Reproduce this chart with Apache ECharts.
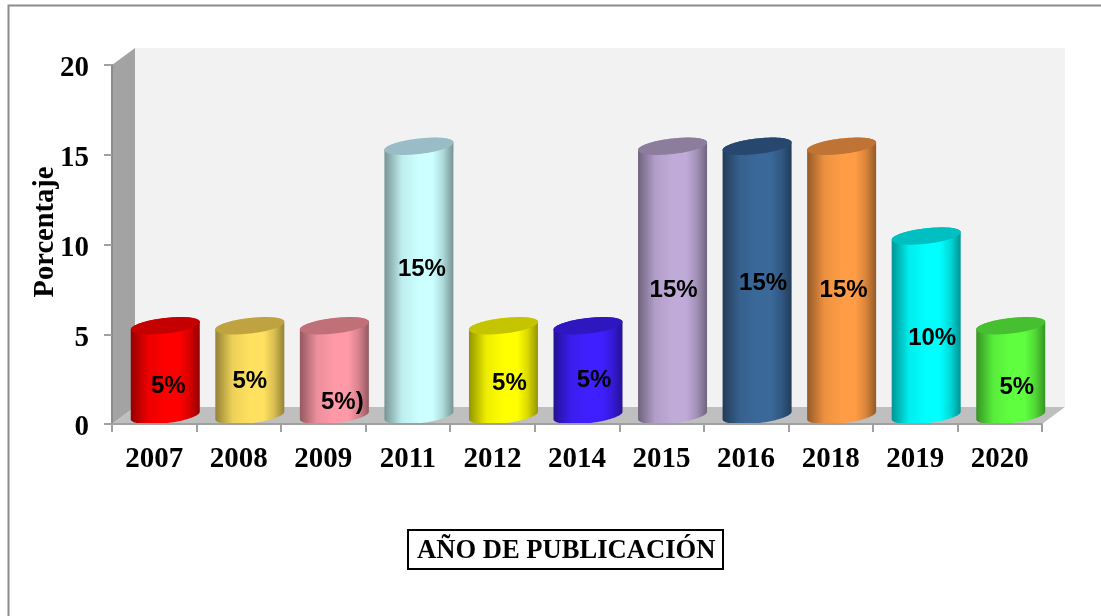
<!DOCTYPE html>
<html>
<head>
<meta charset="utf-8">
<style>html,body{margin:0;padding:0;background:#fff}#c{width:1101px;height:616px}</style>
<script src="https://cdn.jsdelivr.net/npm/echarts@6/dist/echarts.min.js"></script>
</head>
<body>
<div id="c"></div>
<script>
const years = ['2007','2008','2009','2011','2012','2014','2015','2016','2018','2019','2020'];
const percentages = [5,5,5,15,5,5,15,15,15,10,5];
const labelTexts = ['5%','5%','5%)','15%','5%','5%','15%','15%','15%','10%','5%'];
const yTicks = {min:0,max:20,interval:5};
const xTitle = 'AÑO DE PUBLICACIÓN';
const yTitle = 'Porcentaje';

// styling
const bodyColors = ['#ff0000','#ffe05f','#ff99a8','#ccffff','#ffff00','#3f1fff','#c0aad8','#3a6899','#ff9c45','#00ffff','#5fff40'];
const topColors  = ['#c40000','#bfa340','#bf7078','#99bcc6','#c4c400','#2f17c0','#8b7d9b','#27476f','#bf7335','#00bfc0','#46bf30'];
// label placement relative to the cylinder's centre, in pixels
const labelShift = [[3,16],[0,11],[8,32],[3,-12],[6,13],[6,10],[1,9],[6,2],[2,9],[6,13],[6,17]];
const DX = 23, DY = -17, RX = 34.5, RY = 7.8, TILT = 3.8, CX = 11, CY = -8.5;
const SHADE = [[0,.58],[.1,.72],[.25,.93],[.5,1],[.7,1],[.85,.85],[1,.58]];

function shade(hex, f) {
  const n = parseInt(hex.slice(1), 16);
  const c = [n >> 16 & 255, n >> 8 & 255, n & 255].map(v => Math.round(v * f));
  return 'rgb(' + c.join(',') + ')';
}
function ell(cx, cy, from, to, n) {
  const pts = [];
  for (let i = 0; i <= n; i++) {
    const t = from + (to - from) * i / n;
    pts.push([cx + RX * Math.cos(t), cy + RY * Math.sin(t) - TILT * Math.cos(t)]);
  }
  return pts;
}

function renderFrame(params) {
  const g = params.coordSys, l = g.x, r = g.x + g.width, t = g.y, b = g.y + g.height;
  return {type:'group', silent:true, children:[
    {type:'polygon', shape:{points:[[l+DX,t+DY],[r+DX,t+DY],[r+DX,b+DY],[l+DX,b+DY]]}, style:{fill:'#f2f2f2'}},
    {type:'polygon', shape:{points:[[l,t],[l+DX,t+DY],[l+DX,b+DY],[l,b]]}, style:{fill:'#a3a3a3'}},
    {type:'polygon', shape:{points:[[l,b],[l+DX,b+DY],[r+DX,b+DY],[r,b]]}, style:{fill:'#bfbfbf'}}
  ]};
}

function renderCylinder(params, api) {
  const i = params.dataIndex;
  const base = api.coord([api.value(0), 0]);
  const top = api.coord([api.value(0), api.value(1)]);
  const cx = base[0] + CX, by = base[1] + CY, ty = top[1] + CY;
  const pts = ell(cx, by, 0, Math.PI, 40).concat(ell(cx, ty, Math.PI, 2 * Math.PI, 40));
  const fill = {type:'linear', x:0, y:0, x2:1, y2:0,
    colorStops:SHADE.map(s => ({offset:s[0], color:shade(bodyColors[i], s[1])}))};
  const s = labelShift[i];
  return {type:'group', children:[
    {type:'polygon', shape:{points:pts}, style:{fill:fill}},
    {type:'polygon', shape:{points:ell(cx, ty, 0, 2 * Math.PI, 80)}, style:{fill:topColors[i]}},
    {type:'text', x:cx + s[0], y:(by + ty) / 2 + s[1], z2:10, style:{
      text:labelTexts[i], fill:'#000', align:'center', verticalAlign:'middle',
      font:'bold 24px "Liberation Sans", Arial, sans-serif'}}
  ]};
}

const serif = '"Liberation Serif", "Times New Roman", serif';
const chart = echarts.init(document.getElementById('c'), null, {renderer:'canvas'});
chart.setOption({
  animation:false,
  backgroundColor:'#fff',
  title:{
    text:xTitle, left:408, top:530, padding:[7,8,4,9],
    borderColor:'#000', borderWidth:2,
    textStyle:{fontFamily:serif, fontWeight:'bold', fontSize:26.6, color:'#000', lineHeight:28}
  },
  graphic:[{type:'polyline', silent:true, shape:{points:[[8.5,616],[8.5,5.5],[1101,5.5]]},
    style:{stroke:'#8c8c8c', lineWidth:2, fill:null}}],
  grid:{left:112, right:59, top:65, bottom:192},
  xAxis:{
    type:'category', data:years, z:5,
    axisLine:{lineStyle:{color:'#a0a0a0', width:2}},
    axisTick:{show:true, alignWithLabel:false, length:8, lineStyle:{color:'#a0a0a0', width:2}},
    axisLabel:{fontFamily:serif, fontWeight:'bold', fontSize:29, color:'#000', margin:21, interval:0},
    splitLine:{show:false}
  },
  yAxis:{
    type:'value', min:yTicks.min, max:yTicks.max, interval:yTicks.interval, z:5,
    name:yTitle, nameLocation:'middle', nameGap:52, nameMoveOverlap:false,
    nameTextStyle:{fontFamily:serif, fontWeight:'bold', fontSize:28.5, color:'#000', padding:[0,0,0,25]},
    axisLine:{show:true, lineStyle:{color:'#8c8c8c', width:2}},
    axisTick:{show:true, length:8, lineStyle:{color:'#a0a0a0', width:2}},
    axisLabel:{fontFamily:serif, fontWeight:'bold', fontSize:29, color:'#000', margin:23,
      verticalAlign:'top', lineHeight:8},
    splitLine:{show:false}
  },
  series:[
    {type:'custom', name:'marco', z:1, clip:false, silent:true, renderItem:renderFrame, data:[0], encode:{x:[],y:[]}},
    {type:'custom', name:'Porcentaje', z:2, clip:false, silent:true, renderItem:renderCylinder,
     encode:{x:0,y:1}, data:years.map((y,i)=>[i,percentages[i]])}
  ]
});
</script>
</body>
</html>
